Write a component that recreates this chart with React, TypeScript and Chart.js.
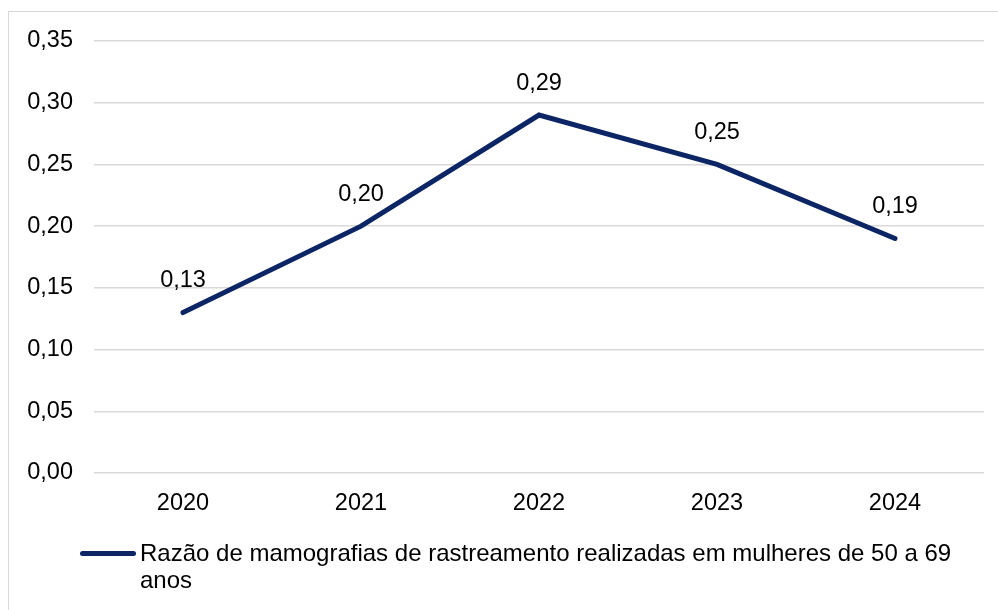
import React, { useEffect, useRef } from "react";
import { Chart, registerables } from "chart.js";

Chart.register(...registerables);

const categories = ["2020", "2021", "2022", "2023", "2024"];
const values = [0.13, 0.2, 0.29, 0.25, 0.19];
const seriesLabel = "Razão de mamografias de rastreamento realizadas em mulheres de 50 a 69 anos";
const lineColor = "#0b2565";
const fontFamily = "'Liberation Sans', Arial, sans-serif";

const fmt = (v: number) => v.toFixed(2).replace(".", ",");

const valueLabels = {
  id: "valueLabels",
  afterDatasetsDraw(chart: any) {
    const ctx = chart.ctx;
    const meta = chart.getDatasetMeta(0);
    ctx.save();
    ctx.font = `23.5px ${fontFamily}`;
    ctx.fillStyle = "#000";
    ctx.textAlign = "center";
    ctx.textBaseline = "middle";
    meta.data.forEach((pt: any, i: number) => {
      ctx.fillText(fmt(values[i]), pt.x, pt.y - 32);
    });
    ctx.restore();
  },
};

export default function App() {
  const ref = useRef<HTMLCanvasElement>(null);
  useEffect(() => {
    if (!ref.current) return;
    const chart = new Chart(ref.current, {
      type: "line",
      data: {
        labels: categories,
        datasets: [
          {
            label: seriesLabel,
            data: values,
            borderColor: lineColor,
            backgroundColor: lineColor,
            borderWidth: 5,
            pointRadius: 0,
            tension: 0,
            borderCapStyle: "round",
            borderJoinStyle: "miter",
          },
        ],
      },
      options: {
        responsive: false,
        animation: false,
        layout: { padding: { left: 0, right: 14, top: 41, bottom: 0 } },
        plugins: { legend: { display: false }, tooltip: { enabled: false } },
        scales: {
          x: {
            offset: true,
            grid: { display: false, drawTicks: false },
            border: { display: false },
            ticks: { color: "#000", font: { family: fontFamily, size: 23.5 }, padding: 16 },
            afterFit: (s: any) => {
              s.height = 610 - 473;
            },
          },
          y: {
            min: 0,
            max: 0.35,
            grid: { color: "#d9d9d9", lineWidth: 1.5, drawTicks: false },
            border: { display: false },
            ticks: {
              stepSize: 0.05,
              color: "#000",
              font: { family: fontFamily, size: 23.5 },
              padding: 21,
              callback: (v: any) => fmt(Number(v)),
            },
            afterFit: (s: any) => {
              s.width = 94;
            },
          },
        },
      },
      plugins: [valueLabels],
    });
    return () => chart.destroy();
  }, []);

  return (
    <div style={{ position: "fixed", left: 0, top: 0, width: 998, height: 610, background: "#fff", overflow: "hidden" }}>
      <div
        style={{
          position: "absolute",
          left: 8,
          top: 11,
          width: 1010,
          height: 620,
          border: "1.5px solid #d9d9d9",
          boxSizing: "border-box",
        }}
      />
      <canvas ref={ref} width={998} height={610} style={{ position: "absolute", left: 0, top: 0 }} />
      <div style={{ position: "absolute", left: 80, top: 551, width: 56, height: 5, borderRadius: 3, background: lineColor }} />
      <div
        style={{
          position: "absolute",
          left: 140,
          top: 539,
          width: 840,
          fontFamily,
          fontSize: 24,
          lineHeight: "27px",
          color: "#000",
        }}
      >
        {seriesLabel}
      </div>
    </div>
  );
}
